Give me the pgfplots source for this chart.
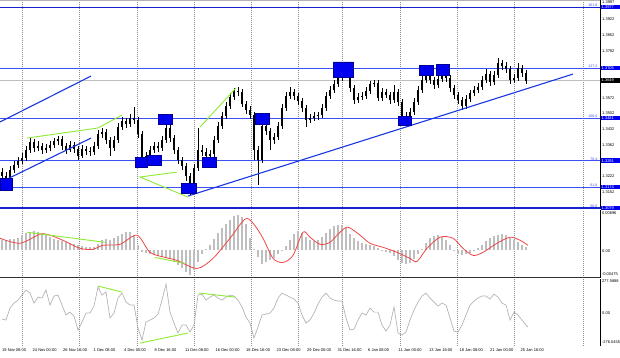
\documentclass[border=0pt]{standalone}
\usepackage{pgfplots}
\pgfplotsset{compat=1.18}
\usepackage{pgfplotstable}
\usepackage{fontspec}
\setmainfont{Liberation Sans}
\definecolor{fibblue}{RGB}{60,80,245}
\definecolor{darkfib}{RGB}{20,35,210}
\definecolor{boxblue}{RGB}{0,0,240}
\definecolor{trendblue}{RGB}{25,55,225}
\definecolor{divgreen}{RGB}{140,235,50}
\definecolor{histgray}{RGB}{190,190,190}
\definecolor{gridgray}{RGB}{140,140,140}
\definecolor{macdred}{RGB}{238,70,70}
\definecolor{ccigray}{RGB}{180,180,180}
\newcommand{\mt}{\fontsize{4}{4.5}\selectfont}
\newcommand{\mts}{\fontsize{3.6}{4}\selectfont}

\pgfplotstableread{
x o h l c
2 1.3240 1.3258 1.3195 1.3222
6 1.3222 1.3240 1.3187 1.3213
10 1.3213 1.3267 1.3204 1.3249
14 1.3249 1.3289 1.3236 1.3271
18 1.3271 1.3307 1.3258 1.3289
22 1.3289 1.3325 1.3276 1.3303
26 1.3303 1.3356 1.3289 1.3339
30 1.3339 1.3397 1.3325 1.3374
34 1.3374 1.3388 1.3330 1.3347
38 1.3347 1.3379 1.3334 1.3356
42 1.3356 1.3370 1.3321 1.3339
46 1.3339 1.3365 1.3325 1.3347
50 1.3347 1.3379 1.3334 1.3361
54 1.3361 1.3392 1.3347 1.3379
58 1.3379 1.3401 1.3361 1.3388
62 1.3388 1.3401 1.3339 1.3356
66 1.3356 1.3370 1.3321 1.3339
70 1.3339 1.3379 1.3330 1.3361
74 1.3361 1.3374 1.3325 1.3343
78 1.3343 1.3356 1.3294 1.3312
82 1.3312 1.3361 1.3303 1.3343
86 1.3343 1.3356 1.3316 1.3334
90 1.3334 1.3352 1.3312 1.3330
94 1.3330 1.3374 1.3316 1.3356
98 1.3356 1.3428 1.3343 1.3410
102 1.3410 1.3437 1.3392 1.3419
106 1.3419 1.3432 1.3365 1.3383
110 1.3383 1.3397 1.3312 1.3347
114 1.3347 1.3401 1.3334 1.3383
118 1.3383 1.3459 1.3370 1.3441
122 1.3441 1.3486 1.3428 1.3468
126 1.3468 1.3482 1.3437 1.3455
130 1.3455 1.3499 1.3441 1.3482
134 1.3482 1.3531 1.3455 1.3473
138 1.3473 1.3486 1.3392 1.3410
142 1.3410 1.3423 1.3258 1.3294
146 1.3294 1.3330 1.3276 1.3312
150 1.3312 1.3356 1.3294 1.3339
154 1.3339 1.3374 1.3325 1.3356
158 1.3356 1.3374 1.3330 1.3347
162 1.3347 1.3401 1.3334 1.3383
166 1.3383 1.3464 1.3370 1.3437
170 1.3437 1.3450 1.3374 1.3392
174 1.3392 1.3406 1.3321 1.3339
178 1.3339 1.3352 1.3276 1.3294
182 1.3294 1.3307 1.3249 1.3267
186 1.3267 1.3280 1.3200 1.3222
190 1.3222 1.3236 1.3137 1.3178
194 1.3178 1.3276 1.3160 1.3258
198 1.3258 1.3437 1.3245 1.3339
202 1.3339 1.3361 1.3312 1.3330
206 1.3330 1.3347 1.3294 1.3312
210 1.3312 1.3339 1.3298 1.3321
214 1.3321 1.3401 1.3307 1.3383
218 1.3383 1.3464 1.3370 1.3446
222 1.3446 1.3508 1.3432 1.3490
226 1.3490 1.3553 1.3477 1.3535
230 1.3535 1.3593 1.3522 1.3575
234 1.3575 1.3616 1.3562 1.3602
238 1.3602 1.3620 1.3580 1.3598
242 1.3598 1.3611 1.3531 1.3544
246 1.3544 1.3558 1.3499 1.3517
250 1.3517 1.3535 1.3477 1.3495
254 1.3495 1.3508 1.3294 1.3339
258 1.3339 1.3356 1.3182 1.3294
262 1.3294 1.3482 1.3280 1.3446
266 1.3446 1.3464 1.3406 1.3423
270 1.3423 1.3437 1.3339 1.3383
274 1.3383 1.3414 1.3365 1.3397
278 1.3397 1.3464 1.3383 1.3446
282 1.3446 1.3544 1.3432 1.3526
286 1.3526 1.3598 1.3513 1.3580
290 1.3580 1.3620 1.3566 1.3598
294 1.3598 1.3611 1.3562 1.3580
298 1.3580 1.3593 1.3540 1.3558
302 1.3558 1.3571 1.3508 1.3526
306 1.3526 1.3540 1.3441 1.3473
310 1.3473 1.3499 1.3459 1.3482
314 1.3482 1.3508 1.3468 1.3490
318 1.3490 1.3508 1.3473 1.3495
322 1.3495 1.3544 1.3482 1.3526
326 1.3526 1.3598 1.3513 1.3580
330 1.3580 1.3625 1.3566 1.3607
334 1.3607 1.3651 1.3593 1.3634
338 1.3634 1.3678 1.3620 1.3660
342 1.3660 1.3714 1.3647 1.3678
346 1.3678 1.3705 1.3660 1.3683
350 1.3683 1.3696 1.3598 1.3616
354 1.3616 1.3629 1.3544 1.3562
358 1.3562 1.3593 1.3549 1.3575
362 1.3575 1.3598 1.3562 1.3580
366 1.3580 1.3620 1.3566 1.3602
370 1.3602 1.3647 1.3589 1.3634
374 1.3634 1.3651 1.3620 1.3638
378 1.3638 1.3651 1.3558 1.3571
382 1.3571 1.3616 1.3558 1.3598
386 1.3598 1.3611 1.3571 1.3584
390 1.3584 1.3598 1.3544 1.3562
394 1.3562 1.3629 1.3549 1.3598
398 1.3598 1.3611 1.3535 1.3553
402 1.3553 1.3566 1.3459 1.3490
406 1.3490 1.3508 1.3464 1.3482
410 1.3482 1.3526 1.3468 1.3508
414 1.3508 1.3571 1.3495 1.3553
418 1.3553 1.3625 1.3540 1.3607
422 1.3607 1.3669 1.3593 1.3651
426 1.3651 1.3696 1.3638 1.3669
430 1.3669 1.3683 1.3634 1.3651
434 1.3651 1.3665 1.3611 1.3629
438 1.3629 1.3674 1.3616 1.3656
442 1.3656 1.3705 1.3642 1.3674
446 1.3674 1.3692 1.3642 1.3660
450 1.3660 1.3674 1.3598 1.3616
454 1.3616 1.3629 1.3566 1.3584
458 1.3584 1.3598 1.3544 1.3562
462 1.3562 1.3575 1.3517 1.3535
466 1.3535 1.3584 1.3522 1.3566
470 1.3566 1.3607 1.3553 1.3593
474 1.3593 1.3625 1.3580 1.3607
478 1.3607 1.3638 1.3593 1.3620
482 1.3620 1.3669 1.3607 1.3651
486 1.3651 1.3701 1.3638 1.3678
490 1.3678 1.3692 1.3625 1.3642
494 1.3642 1.3692 1.3629 1.3674
498 1.3674 1.3750 1.3660 1.3727
502 1.3727 1.3741 1.3696 1.3714
506 1.3714 1.3732 1.3683 1.3701
510 1.3701 1.3714 1.3634 1.3651
514 1.3651 1.3678 1.3638 1.3660
518 1.3660 1.3727 1.3647 1.3705
522 1.3705 1.3718 1.3665 1.3683
526 1.3683 1.3696 1.3634 1.3649
}\candles

\pgfplotstableread{
x h
2 0.00171
6 0.00171
10 0.00189
14 0.00189
18 0.00206
22 0.00259
26 0.00294
30 0.00311
34 0.00329
38 0.00311
42 0.00294
46 0.00259
50 0.00224
54 0.00189
58 0.00171
62 0.00154
66 0.00136
70 0.00119
74 0.00101
78 0.00084
82 0.00066
86 0.00049
90 0.00049
94 0.00049
98 0.00101
102 0.00171
106 0.00189
110 0.00171
114 0.00206
118 0.00241
122 0.00276
126 0.00311
130 0.00311
134 0.00259
138 0.00084
142 -0.00038
146 -0.00056
150 -0.00073
154 -0.00091
158 -0.00108
162 -0.00126
166 -0.00143
170 -0.00161
174 -0.00213
178 -0.00266
182 -0.00318
186 -0.00371
190 -0.00440
194 -0.00353
198 -0.00213
202 -0.00073
206 0.00014
210 0.00084
214 0.00189
218 0.00294
222 0.00381
226 0.00451
230 0.00521
234 0.00591
238 0.00608
242 0.00573
246 0.00451
250 0.00206
254 0.00014
258 -0.00126
262 -0.00248
266 -0.00213
270 -0.00178
274 -0.00143
278 -0.00073
282 -0.00003
286 0.00066
290 0.00171
294 0.00276
298 0.00329
302 0.00294
306 0.00224
310 0.00171
314 0.00154
318 0.00171
322 0.00224
326 0.00294
330 0.00364
334 0.00416
338 0.00434
342 0.00434
346 0.00381
350 0.00276
354 0.00206
358 0.00154
362 0.00119
366 0.00101
370 0.00084
374 0.00066
378 0.00031
382 -0.00003
386 -0.00038
390 -0.00056
394 -0.00108
398 -0.00178
402 -0.00231
406 -0.00248
410 -0.00231
414 -0.00161
418 -0.00073
422 0.00014
426 0.00119
430 0.00206
434 0.00241
438 0.00259
442 0.00224
446 0.00171
450 0.00084
454 -0.00021
458 -0.00073
462 -0.00091
466 -0.00073
470 -0.00056
474 -0.00003
478 0.00031
482 0.00084
486 0.00154
490 0.00206
494 0.00241
498 0.00259
502 0.00276
506 0.00259
510 0.00206
514 0.00171
518 0.00136
522 0.00084
526 0.00049
}\macdhist

\pgfplotstableread{
x s
0 0.00206
20 0.00119
40 0.00276
50 0.00259
65 0.00154
80 0.00031
93 0.00014
103 0.00084
120 0.00101
137 0.00259
150 -0.00038
165 -0.00126
177 -0.00178
197 -0.00318
213 -0.00143
230 0.00206
245 0.00538
253 0.00468
263 0.00206
273 -0.00143
283 -0.00213
293 -0.00091
303 0.00311
310 0.00224
320 0.00101
330 0.00136
340 0.00311
348 0.00399
360 0.00259
370 0.00119
383 0.00049
397 -0.00038
410 -0.00143
417 -0.00196
427 0.00031
440 0.00224
453 0.00206
463 0.00031
473 -0.00091
483 -0.00038
497 0.00119
510 0.00224
520 0.00171
528 0.00084
}\macdsig

\pgfplotstableread{
x v
2 -56
6 -64
10 36
14 77
18 102
22 144
26 186
30 161
34 77
38 127
42 119
46 186
50 61
54 136
58 144
62 61
66 -22
70 2
74 -31
78 -147
82 -81
86 -6
90 -6
94 52
98 211
102 144
106 169
110 -47
114 -6
118 119
122 161
126 86
130 61
134 61
138 -131
142 -231
146 -81
150 -64
154 -47
158 -14
162 102
166 236
170 2
174 -89
178 -172
182 -106
186 -106
190 -164
194 -106
198 144
202 152
206 102
210 127
214 144
218 119
222 102
226 127
230 144
234 136
238 102
242 44
246 -39
250 -89
254 -214
258 -122
262 -22
266 -14
270 -6
274 36
278 119
282 161
286 144
290 127
294 111
298 77
302 -22
306 -89
310 -64
314 -6
318 69
322 127
326 161
330 119
334 102
338 94
342 94
346 -47
350 -147
354 -139
358 -64
362 -6
366 -22
370 36
374 2
378 2
382 -106
386 -156
390 -106
394 44
398 -172
402 -189
406 -164
410 -64
414 19
418 86
422 136
426 161
430 119
434 86
438 52
442 77
446 61
450 -47
454 -156
458 -164
462 -106
466 -22
470 61
474 94
478 119
482 136
486 136
490 111
494 152
498 127
502 77
506 61
510 -64
514 2
518 -22
522 -64
526 -106
528 -122
}\cci

\pgfplotsset{mtpanel/.style={
  scale only axis, width=600pt, xmin=0, xmax=600, clip=false,
  axis line style={draw=none},
  xtick={22,79,137,194,251,298,342,400,457,514,583},
  xticklabels={}, ytick=\empty, major tick length=0pt,
  xmajorgrids, major grid style={gridgray, dash pattern=on 1pt off 1pt, line width=0.4pt},
}}
\tikzset{hl/.style={anchor=west, inner xsep=1pt, inner ysep=0.9pt, text width=19pt, align=left, font=\mt, text=white}}

\begin{document}
\begin{tikzpicture}
\path[use as bounding box] (0pt,0pt) rectangle (620pt,-357pt);
% ---------------- price panel ----------------
\begin{axis}[mtpanel, at={(0pt,0pt)}, anchor=north west, height=209pt, ymin=1.3075, ymax=1.4009]
\addplot[black!30, line width=0.5pt] coordinates {(0,1.4009) (600,1.4009)};
\addplot[black!25, line width=0.5pt] coordinates {(0,1.3649) (600,1.3649)};
\addplot[darkfib, line width=1pt] coordinates {(0,1.3977) (600,1.3977)};
\addplot[fibblue, line width=0.6pt] coordinates {(0,1.3705) (600,1.3705)};
\addplot[fibblue, line width=0.6pt] coordinates {(0,1.3481) (600,1.3481)};
\addplot[fibblue, line width=0.6pt] coordinates {(0,1.3291) (600,1.3291)};
\addplot[fibblue, line width=0.6pt] coordinates {(0,1.3174) (600,1.3174)};
% candles: wicks and bodies
\addplot[draw=none, mark=none, error bars/.cd, y dir=both, y explicit, error mark=none,
  error bar style={black, line width=0.5pt}]
  table[x=x, y=c, y error plus expr=\thisrow{h}-\thisrow{c}, y error minus expr=\thisrow{c}-\thisrow{l}] {\candles};
\addplot[draw=none, mark=none, error bars/.cd, y dir=both, y explicit, error mark=none,
  error bar style={black, line width=1.6pt, line cap=butt}]
  table[x=x, y=c, y error plus expr={max(\thisrow{o}-\thisrow{c},0)}, y error minus expr={max(\thisrow{c}-\thisrow{o},0)}] {\candles};
% trend lines
\addplot[trendblue, line width=1.1pt] coordinates {(0,1.3464) (91,1.3669)};
\addplot[trendblue, line width=1.1pt] coordinates {(5,1.3204) (91,1.3392)};
\addplot[trendblue, line width=1.1pt] coordinates {(188,1.3133) (573,1.3678)};
% divergence lines
\addplot[divgreen, line width=0.9pt] coordinates {(27,1.3392) (98,1.3437) (122,1.3495)};
\addplot[divgreen, line width=0.9pt] coordinates {(177,1.3240) (140,1.3218) (188,1.3128)};
\addplot[divgreen, line width=0.9pt] coordinates {(200,1.3441) (236,1.3616)};
% blue squares
\addplot[fill=boxblue, draw=blue!60!black, line width=0.3pt] coordinates {(0,1.3213) (12,1.3213) (12,1.3160) (0,1.3160) (0,1.3213)};
\addplot[fill=boxblue, draw=blue!60!black, line width=0.3pt] coordinates {(135,1.3307) (147,1.3307) (147,1.3263) (135,1.3263) (135,1.3307)};
\addplot[fill=boxblue, draw=blue!60!black, line width=0.3pt] coordinates {(147,1.3316) (161,1.3316) (161,1.3271) (147,1.3271) (147,1.3316)};
\addplot[fill=boxblue, draw=blue!60!black, line width=0.3pt] coordinates {(158,1.3499) (172,1.3499) (172,1.3455) (158,1.3455) (158,1.3499)};
\addplot[fill=boxblue, draw=blue!60!black, line width=0.3pt] coordinates {(181,1.3191) (196,1.3191) (196,1.3146) (181,1.3146) (181,1.3191)};
\addplot[fill=boxblue, draw=blue!60!black, line width=0.3pt] coordinates {(202,1.3307) (216,1.3307) (216,1.3263) (202,1.3263) (202,1.3307)};
\addplot[fill=boxblue, draw=blue!60!black, line width=0.3pt] coordinates {(255,1.3504) (269,1.3504) (269,1.3455) (255,1.3455) (255,1.3504)};
\addplot[fill=boxblue, draw=blue!60!black, line width=0.3pt] coordinates {(333,1.3732) (353,1.3732) (353,1.3665) (333,1.3665) (333,1.3732)};
\addplot[fill=boxblue, draw=blue!60!black, line width=0.3pt] coordinates {(398,1.3490) (411,1.3490) (411,1.3450) (398,1.3450) (398,1.3490)};
\addplot[fill=boxblue, draw=blue!60!black, line width=0.3pt] coordinates {(419,1.3718) (433,1.3718) (433,1.3674) (419,1.3674) (419,1.3718)};
\addplot[fill=boxblue, draw=blue!60!black, line width=0.3pt] coordinates {(436,1.3723) (449,1.3723) (449,1.3674) (436,1.3674) (436,1.3723)};
\addplot[darkfib, line width=2pt] coordinates {(0,1.3079) (600,1.3079)};
% right axis line and level bar
\draw[black, line width=0.5pt] (rel axis cs:1,0) -- (rel axis cs:1,1);
\addplot[black, line width=1.4pt] coordinates {(600.6,1.3508) (600.6,1.3356)};
% fib level texts
\node[anchor=south east, inner sep=0.4pt, font=\mts, text=fibblue] at (axis cs:598,1.3977) {161.8};
\node[anchor=south east, inner sep=0.4pt, font=\mts, text=fibblue] at (axis cs:598,1.3705) {127.2};
\node[anchor=south east, inner sep=0.4pt, font=\mts, text=fibblue] at (axis cs:598,1.3481) {100.0};
\node[anchor=south east, inner sep=0.4pt, font=\mts, text=fibblue] at (axis cs:598,1.3291) {76.4};
\node[anchor=south east, inner sep=0.4pt, font=\mts, text=fibblue] at (axis cs:598,1.3174) {61.8};
\node[anchor=south east, inner sep=0.4pt, font=\mts, text=fibblue] at (axis cs:598,1.3079) {50.0};
% price scale
\node[anchor=west, inner sep=0pt, font=\mt] at (axis cs:602,1.3999) {1.3997};
\node[anchor=west, inner sep=0pt, font=\mt] at (axis cs:602,1.3922) {1.3922};
\node[anchor=west, inner sep=0pt, font=\mt] at (axis cs:602,1.3852) {1.3852};
\node[anchor=west, inner sep=0pt, font=\mt] at (axis cs:602,1.3782) {1.3782};
\node[anchor=west, inner sep=0pt, font=\mt] at (axis cs:602,1.3572) {1.3572};
\node[anchor=west, inner sep=0pt, font=\mt] at (axis cs:602,1.3502) {1.3502};
\node[anchor=west, inner sep=0pt, font=\mt] at (axis cs:602,1.3432) {1.3432};
\node[anchor=west, inner sep=0pt, font=\mt] at (axis cs:602,1.3362) {1.3362};
\node[anchor=west, inner sep=0pt, font=\mt] at (axis cs:602,1.3222) {1.3222};
\node[anchor=west, inner sep=0pt, font=\mt] at (axis cs:602,1.3152) {1.3152};
\node[hl, fill=boxblue] at (axis cs:600.5,1.3977) {1.3977};
\node[hl, fill=boxblue] at (axis cs:600.5,1.3705) {1.3705};
\node[hl, fill=black] at (axis cs:600.5,1.3649) {1.3649};
\node[hl, fill=boxblue] at (axis cs:600.5,1.3481) {1.3481};
\node[hl, fill=boxblue] at (axis cs:600.5,1.3291) {1.3291};
\node[hl, fill=boxblue] at (axis cs:600.5,1.3174) {1.3174};
\node[hl, fill=boxblue] at (axis cs:600.5,1.3079) {1.3079};
\end{axis}
% ---------------- MACD panel ----------------
\begin{axis}[mtpanel, at={(0pt,-210pt)}, anchor=north west, height=67.5pt, ymin=-0.00475, ymax=0.00696]
\addplot[ycomb, histgray, line width=1.5pt] table[x=x, y=h] {\macdhist};
\addplot[macdred, line width=0.8pt, smooth] table[x=x, y=s] {\macdsig};
\addplot[divgreen, line width=0.9pt] coordinates {(27,0.00311) (105,0.00136)};
\addplot[divgreen, line width=0.9pt] coordinates {(155,-0.00126) (185,-0.00231)};
\draw[black, line width=0.5pt] (rel axis cs:1,0) -- (rel axis cs:1,1);
\draw[black!80, line width=1.5pt] (rel axis cs:0,0) -- (rel axis cs:1,0);
\node[anchor=north west, inner sep=0pt, font=\mt] at (rel axis cs:1.003,0.985) {0.00696};
\node[anchor=west, inner sep=0pt, font=\mt] at (axis cs:602,-0.0002) {0.00};
\node[anchor=south west, inner sep=0pt, font=\mt] at (rel axis cs:1.003,0.025) {-0.00475};
\end{axis}
% ---------------- CCI panel ----------------
\begin{axis}[mtpanel, at={(0pt,-279pt)}, anchor=north west, height=66.5pt, ymin=-276.0455, ymax=277.5888]
\addplot[ccigray, line width=0.7pt] table[x=x, y=v] {\cci};
\addplot[divgreen, line width=0.9pt] coordinates {(98,219) (122,169)};
\addplot[divgreen, line width=0.9pt] coordinates {(140,-256) (188,-172)};
\addplot[divgreen, line width=0.9pt] coordinates {(199,161) (235,127)};
\draw[black, line width=0.5pt] (rel axis cs:1,0) -- (rel axis cs:1,1);
\node[anchor=north west, inner sep=0pt, font=\mt] at (rel axis cs:1.003,0.985) {277.5888};
\node[anchor=west, inner sep=0pt, font=\mt] at (axis cs:602,-3) {0.00};
\node[anchor=south west, inner sep=0pt, font=\mt] at (rel axis cs:1.003,0.03) {-276.0455};
% date labels
\node[anchor=north west, inner sep=0pt, font=\mt] at (axis cs:2,-300) {19 Nov 08:00};
\node[anchor=north west, inner sep=0pt, font=\mt] at (axis cs:32.5,-300) {24 Nov 00:00};
\node[anchor=north west, inner sep=0pt, font=\mt] at (axis cs:63,-300) {26 Nov 16:00};
\node[anchor=north west, inner sep=0pt, font=\mt] at (axis cs:93.5,-300) {1 Dec 08:00};
\node[anchor=north west, inner sep=0pt, font=\mt] at (axis cs:124,-300) {4 Dec 00:00};
\node[anchor=north west, inner sep=0pt, font=\mt] at (axis cs:154.5,-300) {8 Dec 16:00};
\node[anchor=north west, inner sep=0pt, font=\mt] at (axis cs:185,-300) {11 Dec 08:00};
\node[anchor=north west, inner sep=0pt, font=\mt] at (axis cs:215.5,-300) {16 Dec 00:00};
\node[anchor=north west, inner sep=0pt, font=\mt] at (axis cs:246,-300) {18 Dec 16:00};
\node[anchor=north west, inner sep=0pt, font=\mt] at (axis cs:276.5,-300) {23 Dec 08:00};
\node[anchor=north west, inner sep=0pt, font=\mt] at (axis cs:307,-300) {29 Dec 00:00};
\node[anchor=north west, inner sep=0pt, font=\mt] at (axis cs:337.5,-300) {31 Dec 16:00};
\node[anchor=north west, inner sep=0pt, font=\mt] at (axis cs:368,-300) {6 Jan 08:00};
\node[anchor=north west, inner sep=0pt, font=\mt] at (axis cs:398.5,-300) {11 Jan 00:00};
\node[anchor=north west, inner sep=0pt, font=\mt] at (axis cs:429,-300) {13 Jan 16:00};
\node[anchor=north west, inner sep=0pt, font=\mt] at (axis cs:459.5,-300) {18 Jan 08:00};
\node[anchor=north west, inner sep=0pt, font=\mt] at (axis cs:490,-300) {21 Jan 00:00};
\node[anchor=north west, inner sep=0pt, font=\mt] at (axis cs:520.5,-300) {25 Jan 16:00};
\end{axis}
\end{tikzpicture}
\end{document}
